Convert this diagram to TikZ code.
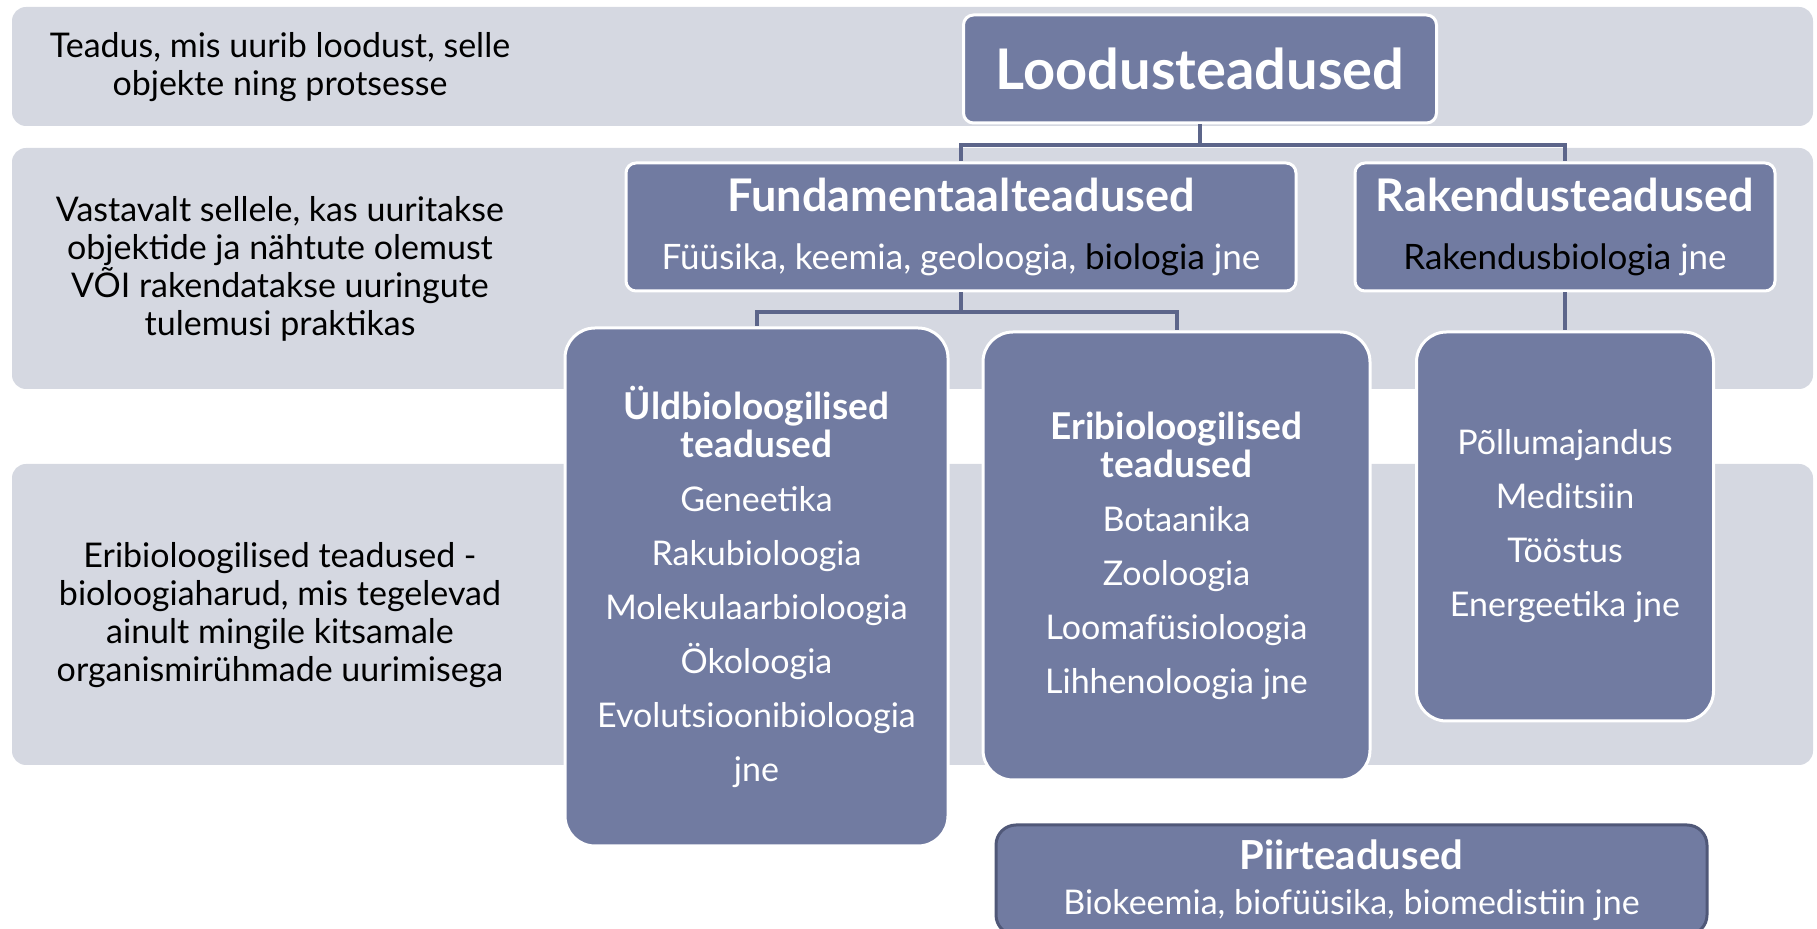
\documentclass[tikz,border=0pt]{standalone}
\usepackage{fontspec}
\setmainfont{Lato}
\usepackage{tikz}
\usetikzlibrary{calc}

\definecolor{bandgray}{RGB}{213,216,225}
\definecolor{boxblue}{RGB}{113,123,161}
\definecolor{linkblue}{RGB}{92,101,138}
\definecolor{rimdark}{RGB}{80,88,120}

\newcommand{\bodyfont}{\fontsize{17}{19}\selectfont}
\newcommand{\headfont}{\fontsize{18.5}{19}\selectfont\bfseries}
\newcommand{\branchhead}{\fontsize{22.5}{19}\selectfont\bfseries}

\tikzset{
  band/.style={fill=bandgray, rounded corners=7pt, inner sep=0pt},
  note/.style={align=center, text=black, font=\bodyfont},
  sciencebox/.style={fill=boxblue, draw=white, line width=1.5pt, rounded corners=5pt,
    text=white, align=center, inner sep=0pt, font=\bodyfont},
  branchbox/.style={sciencebox, rounded corners=15pt},
  link/.style={draw=linkblue, line width=2pt},
}

\begin{document}
\begin{tikzpicture}[x=0.5pt,y=-0.5pt]
\useasboundingbox (0,0) rectangle (1817,929);

% background bands
\node[band, minimum width=900.5pt, minimum height=59.5pt]  (band1) at (912.5,66.5) {};
\node[band, minimum width=900.5pt, minimum height=120.5pt] (band2) at (912.5,268.5) {};
\node[band, minimum width=900.5pt, minimum height=150.5pt] (band3) at (912.5,614.5) {};

\node[note] (note1) at (280,67)  {Teadus, mis uurib loodust, selle\\objekte ning protsesse};
\node[note] (note2) at (280,269) {Vastavalt sellele, kas uuritakse\\objektide ja nähtute olemust\\VÕI rakendatakse uuringute\\tulemusi praktikas};
\node[note] (note3) at (280,615) {Eribioloogilised teadused -\\bioloogiaharud, mis tegelevad\\ainult mingile kitsamale\\organismirühmade uurimisega};

% top level
\node[sciencebox, minimum width=236.5pt, minimum height=54pt] (loodus) at (1200,69)
  {\fontsize{28}{30}\selectfont\bfseries Loodusteadused};

\node[sciencebox, minimum width=335pt, minimum height=64pt] (fund) at (961,227)
  {{\branchhead Fundamentaalteadused}\\[10pt]
   {\fontsize{17.5}{19}\selectfont Füüsika, keemia, geoloogia, \textcolor{black}{biologia} jne}};
\node[sciencebox, minimum width=210pt, minimum height=64pt] (rak) at (1565,227)
  {{\branchhead Rakendusteadused}\\[10pt]
   {\fontsize{17.5}{19}\selectfont\textcolor{black}{Rakendusbiologia} jne}};

% branches
\node[branchbox, minimum width=191.5pt, minimum height=259pt] (yld) at (756.5,587)
  {{\headfont Üldbioloogilised}\\{\headfont teadused}\\[8pt]
   Geneetika\\[8pt]Rakubioloogia\\[8pt]Molekulaarbioloogia\\[8pt]Ökoloogia\\[8pt]
   Evolutsioonibioloogia\\[8pt]jne};
\node[branchbox, minimum width=193.5pt, minimum height=224pt] (eri) at (1176.5,556)
  {{\headfont Eribioloogilised}\\{\headfont teadused}\\[8pt]
   Botaanika\\[8pt]Zooloogia\\[8pt]Loomafüsioloogia\\[8pt]Lihhenoloogia jne};
\node[branchbox, minimum width=148.5pt, minimum height=194.5pt] (pol) at (1565,526.5)
  {Põllumajandus\\[8pt]Meditsiin\\[8pt]Tööstus\\[8pt]Energeetika jne};

\node[sciencebox, draw=rimdark, rounded corners=10pt, minimum width=355.5pt, minimum height=55pt] (piir) at (1351.5,880)
  {{\fontsize{20}{19}\selectfont\bfseries Piirteadused}\\[3.5pt]Biokeemia, biofüüsika, biomedistiin jne};

% connectors
\draw[link] (loodus.south) -- ++(0,21) -| (fund.north);
\draw[link] (loodus.south) ++(0,21) -| (rak.north);
\draw[link] (fund.south) -- ++(0,20) -| (yld.north);
\draw[link] (fund.south) ++(0,20) -| (eri.north);
\draw[link] (rak.south) -- (pol.north);
\end{tikzpicture}
\end{document}
